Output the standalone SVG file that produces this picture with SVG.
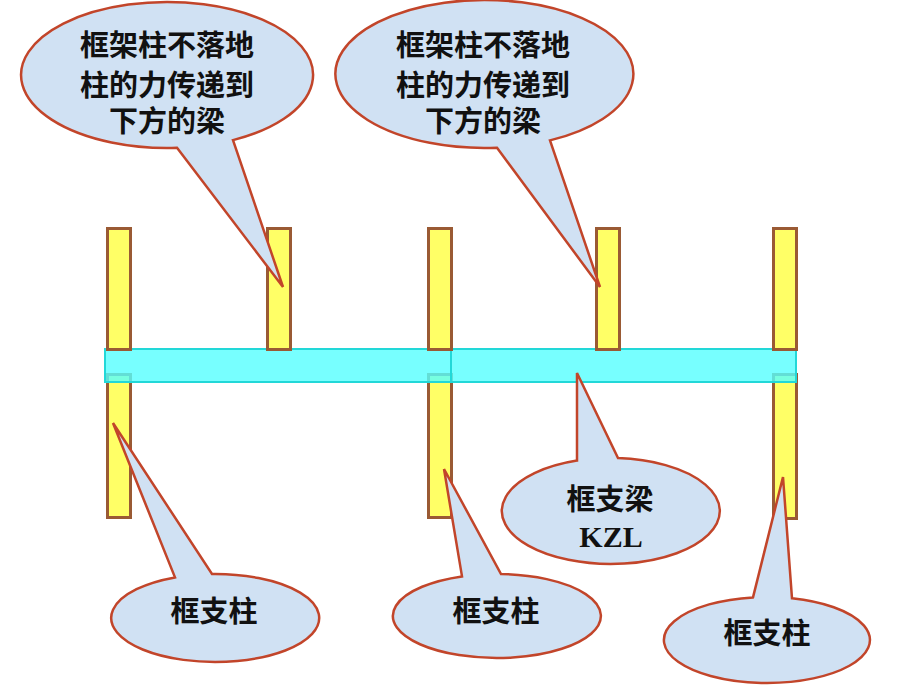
<svg xmlns="http://www.w3.org/2000/svg" width="918" height="688" viewBox="0 0 918 688">
<style>
.col{fill:#FFFF66;stroke:#9A5A34;stroke-width:3}
.beam{fill:#55FFFF;fill-opacity:0.8;stroke:#22D8D8;stroke-width:2}
.call{fill:#D0E1F3;stroke:#C2452A;stroke-width:2.5;stroke-linejoin:miter}
.t{font-family:"Noto Sans CJK SC","Noto Sans",sans-serif;font-size:29px;font-weight:700;fill:#111;text-anchor:middle}
.tl{font-family:"Liberation Serif","Times New Roman",serif;font-size:30px;font-weight:700;fill:#111;text-anchor:middle}
</style>
<rect width="918" height="688" fill="#ffffff"/>
<g id="lower-columns">
<rect class="col" x="107.5" y="374.5" width="23" height="143"/>
<rect class="col" x="428.5" y="374.5" width="23" height="143"/>
<rect class="col" x="773.5" y="374.5" width="23" height="144"/>
</g>
<g id="beam-KZL">
<rect class="beam" x="105" y="349" width="346" height="33"/>
<rect class="beam" x="451" y="349" width="345" height="33"/>
</g>
<g id="upper-columns">
<rect class="col" x="107.5" y="228.5" width="23" height="121"/>
<rect class="col" x="267.5" y="228.5" width="23" height="121"/>
<rect class="col" x="428.5" y="228.5" width="23" height="121"/>
<rect class="col" x="596.5" y="228.5" width="23" height="121"/>
<rect class="col" x="773.5" y="228.5" width="23" height="121"/>
</g>
<g id="connectors">
</g>
<g id="callout-top-left">
<path class="call" d="M177,147.8 L283,287 L233,140.1 A146,73 0 1 0 177,147.8 Z"/>
<text class="t" x="167" y="55.5">框架柱不落地<tspan x="167" dy="40">柱的力传递到</tspan><tspan x="167" dy="36.5">下方的梁</tspan></text>
</g>
<g id="callout-top-right">
<path class="call" d="M497,147.7 L600,287 L550,140.4 A149,74 0 1 0 497,147.7 Z"/>
<text class="t" x="483" y="55.5">框架柱不落地<tspan x="483" dy="40">柱的力传递到</tspan><tspan x="483" dy="36.5">下方的梁</tspan></text>
</g>
<g id="callout-beam">
<path class="call" d="M577,460.6 L577,373 L618,458.1 A109,53 0 1 1 577,460.6 Z"/>
<text class="t" x="610" y="510">框支梁</text>
<text class="tl" x="611" y="547">KZL</text>
</g>
<g id="callout-bottom-left">
<path class="call" d="M175,577.4 L113,423 L212,574 A104,44 0 1 1 175,577.4 Z"/>
<text class="t" x="214" y="622">框支柱</text>
</g>
<g id="callout-bottom-middle">
<path class="call" d="M462,576.4 L444,469 L501,574 A104,42 0 1 1 462,576.4 Z"/>
<text class="t" x="496" y="622">框支柱</text>
</g>
<g id="callout-bottom-right">
<path class="call" d="M753,597.4 L783,477 L792,598.3 A103,43 0 1 1 753,597.4 Z"/>
<text class="t" x="767" y="644">框支柱</text>
</g>
</svg>
